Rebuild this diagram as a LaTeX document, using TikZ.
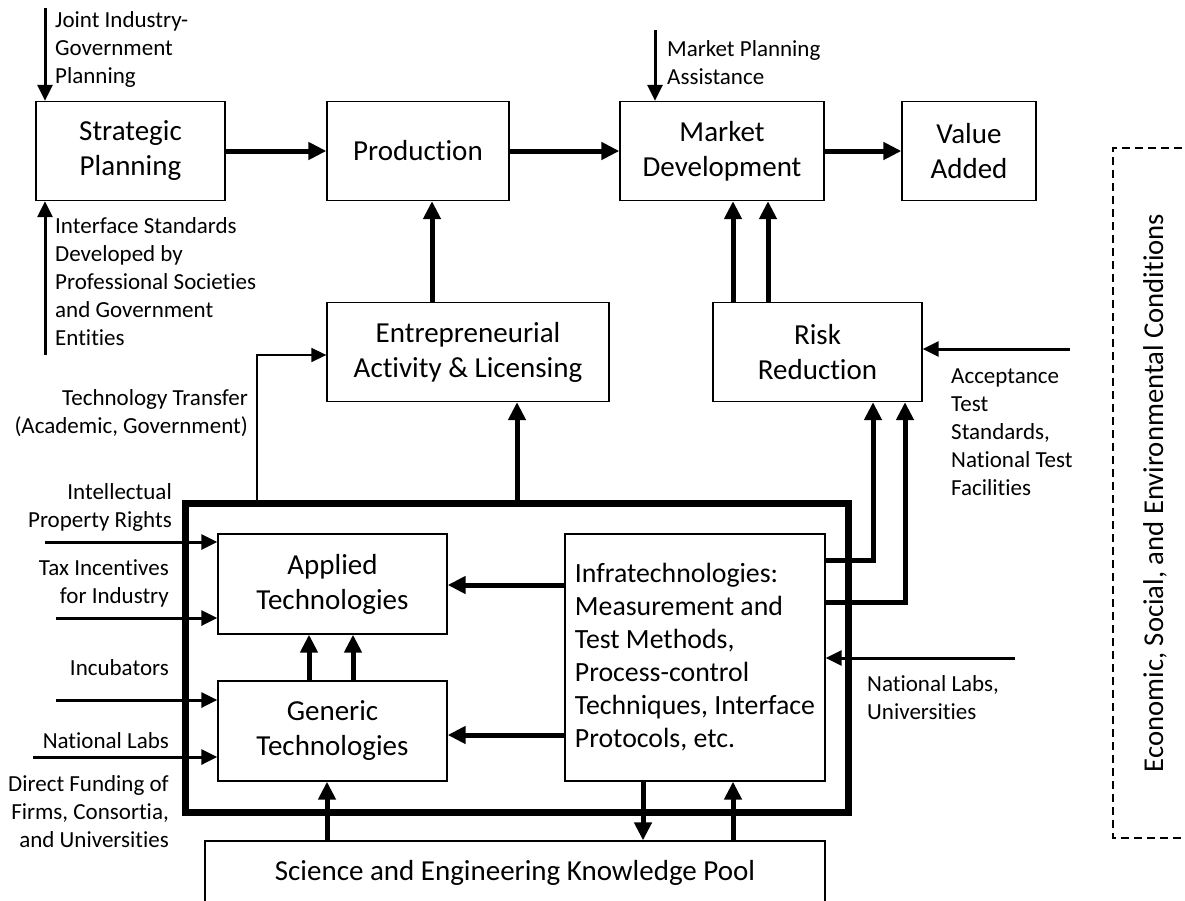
\documentclass[tikz,border=0pt]{standalone}
\usepackage{fontspec}
\setmainfont{Carlito}[Ligatures=NoCommon]
\usetikzlibrary{arrows.meta}
\begin{document}
\begin{tikzpicture}[x=1pt,y=-1pt,
  box/.style={draw, line width=1.3pt, align=center, font=\fontsize{29}{35}\selectfont, inner sep=0pt},
  lbl/.style={align=left, font=\fontsize{23}{28}\selectfont, inner sep=0pt},
  lblr/.style={align=right, font=\fontsize{23}{28}\selectfont, inner sep=0pt},
  big/.style={line width=5pt, -{Triangle[length=18pt,width=17pt]}},
  mid/.style={line width=3pt, -{Triangle[length=16pt,width=15pt]}},
  slim/.style={line width=1.5pt, -{Triangle[length=15pt,width=14pt]}},
]
\useasboundingbox (0,0) rectangle (1185,900);

% main boxes
\node[box, minimum width=189pt, minimum height=99pt] (sp) at (130.5,151) {Strategic\\Planning};
\node[box, minimum width=182pt, minimum height=99pt] (prod) at (418,151) {Production};
\node[box, minimum width=204pt, minimum height=99pt] (md) at (722,151) {Market\\Development};
\node[box, minimum width=134pt, minimum height=99pt] (va) at (969,151) {Value\\Added};
\node[box, minimum width=282pt, minimum height=99pt] (ent) at (468,352) {Entrepreneurial\\Activity \& Licensing};
\node[box, minimum width=209pt, minimum height=99pt] (risk) at (817.5,352) {Risk\\Reduction};

% thick frame
\node[draw, line width=7pt, minimum width=663pt, minimum height=309pt, inner sep=0pt] (frame) at (516.5,657.5) {};

\node[box, minimum width=229pt, minimum height=100pt] (app) at (332.5,584) {Applied\\Technologies};
\node[box, minimum width=229pt, minimum height=100pt] (gen) at (332.5,731) {Generic\\Technologies};
\node[box, minimum width=260pt, minimum height=247pt, align=left, font=\fontsize{27.8}{33}\selectfont] (infra) at (695,657.5)
  {Infratechnologies:\\Measurement and\\Test Methods,\\Process-control\\Techniques, Interface\\Protocols, etc.};
\node[box, minimum width=620pt, minimum height=64pt] (kp) at (515,873) {Science and Engineering Knowledge Pool};

% dashed conditions box
\draw[line width=1.2pt, dash pattern=on 8pt off 5pt] (1195,148) -- (1113,148) -- (1113,838) -- (1195,838);
\node[rotate=90, inner sep=0pt, font=\fontsize{28.7}{34}\selectfont] (econ) at (1155,493) {Economic, Social, and Environmental Conditions};

% top row flow
\draw[big] (sp.east) -- (prod.west);
\draw[big] (prod.east) -- (md.west);
\draw[big] (md.east) -- (va.west);

% vertical flows
\draw[big] (ent.north -| 432,0) -- (prod.south -| 432,0);
\draw[big] (risk.north -| 733,0) -- (md.south -| 733,0);
\draw[big] (risk.north -| 768,0) -- (md.south -| 768,0);
\draw[big] (frame.north -| 517,0) -- (ent.south -| 517,0);
\draw[slim] (frame.north -| 257,0) |- (ent.west |- 0,355);
\draw[big] (infra.east |- 0,560) -| (risk.south -| 873,0);
\draw[big] (infra.east |- 0,602) -| (risk.south -| 905,0);
\draw[big] (infra.west |- 0,585) -- (app.east |- 0,585);
\draw[big] (infra.west |- 0,735) -- (gen.east |- 0,735);
\draw[big] (gen.north -| 309,0) -- (app.south -| 309,0);
\draw[big] (gen.north -| 353,0) -- (app.south -| 353,0);
\draw[big] (kp.north -| 327,0) -- (gen.south -| 327,0);
\draw[big] (infra.south -| 643,0) -- (kp.north -| 643,0);
\draw[big] (kp.north -| 733,0) -- (infra.south -| 733,0);

% external inputs
\coordinate (jig) at (45,8);
\coordinate (isd) at (45,355);
\coordinate (mpa) at (655,30);
\coordinate (ipr) at (45,542);
\coordinate (tax) at (56,618);
\coordinate (inc) at (56,700);
\coordinate (nl) at (33,757);
\coordinate (acc) at (1070,349);
\coordinate (nlu) at (1015,658);
\draw[mid] (jig) -- (jig |- sp.north);
\draw[mid] (isd) -- (isd |- sp.south);
\draw[mid] (mpa) -- (mpa |- md.north);
\draw[mid] (ipr) -- (ipr -| app.west);
\draw[mid] (tax) -- (tax -| app.west);
\draw[mid] (inc) -- (inc -| gen.west);
\draw[mid] (nl) -- (nl -| gen.west);
\draw[mid] (acc) -- (acc -| risk.east);
\draw[mid] (nlu) -- (nlu -| infra.east);

% labels
\node[lbl, anchor=west] (ljig) at (55,49.5) {Joint Industry-\\Government\\Planning};
\node[lbl, anchor=west] (lisd) at (55,282) {Interface Standards\\Developed by\\Professional Societies\\and Government\\Entities};
\node[lbl, anchor=west] (lmpa) at (667,62.5) {Market Planning\\Assistance};
\node[lblr, anchor=east] (ltt) at (248,413.5) {Technology Transfer\\(Academic, Government)};
\node[lblr, anchor=east] (lipr) at (172,507) {Intellectual\\Property Rights};
\node[lblr, anchor=east] (ltax) at (169,583) {Tax Incentives\\for Industry};
\node[lblr, anchor=east] (linc) at (169,667.5) {Incubators};
\node[lblr, anchor=east] (lnl) at (169,740.5) {National Labs};
\node[lblr, anchor=east] (ldf) at (169,812) {Direct Funding of\\Firms, Consortia,\\and Universities};
\node[lbl, anchor=west] (lacc) at (951,432) {Acceptance\\Test\\Standards,\\National Test\\Facilities};
\node[lbl, anchor=west] (lnlu) at (867,698) {National Labs,\\Universities};
\end{tikzpicture}
\end{document}
